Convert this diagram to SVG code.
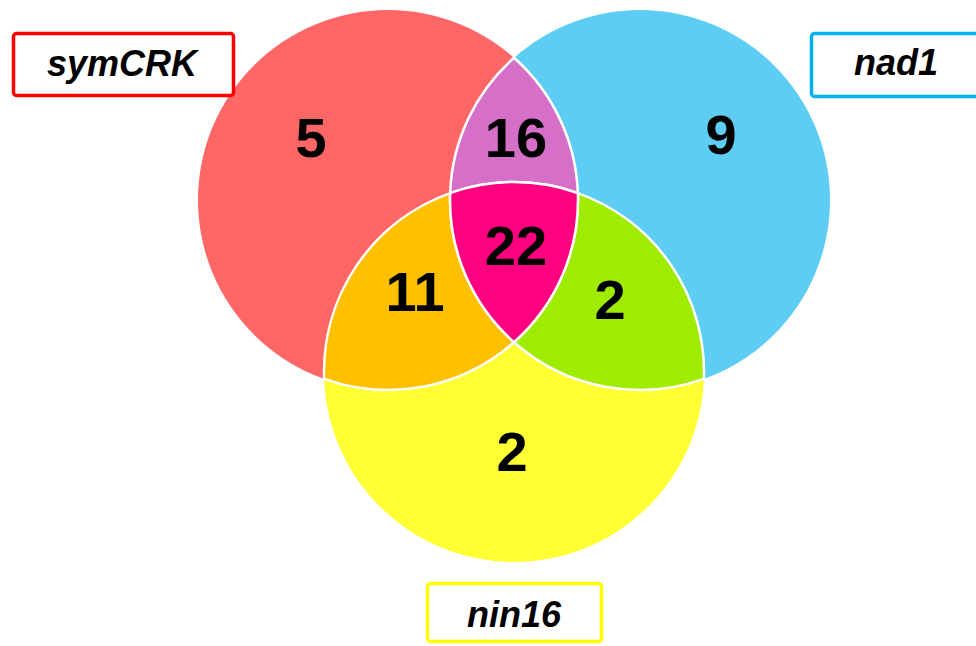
<svg xmlns="http://www.w3.org/2000/svg" width="976" height="646" viewBox="0 0 976 646">
  <style>
    .num { font-family: "Liberation Sans", Arial, sans-serif; font-weight: bold; font-size: 56px; fill: #000; text-anchor: middle; }
    .lbl { font-family: "Liberation Sans", Arial, sans-serif; font-weight: bold; font-style: italic; font-size: 36px; fill: #000; text-anchor: middle; }
    .box { fill: #fff; stroke-width: 3.5; }
    .part { stroke: #fff; stroke-width: 2.5; stroke-linejoin: round; }
  </style>
  <rect width="976" height="646" fill="#fff"/>

  <!-- the three sets -->
  <g id="set-symCRK"><circle cx="388" cy="200" r="190" fill="#FF6666"/></g>
  <g id="set-nad1"><circle cx="640" cy="200" r="190" fill="#5DCDF4"/></g>
  <g id="set-nin16"><circle cx="514" cy="372" r="190" fill="#FFFF33"/></g>

  <!-- overlaps -->
  <g id="overlap-symCRK-nad1">
    <path class="part" fill="#D56FC8" d="M514,57.8 A190,190 0 0,0 450.13,193.06 A190,190 0 0,1 577.87,193.06 A190,190 0 0,0 514,57.8 Z"/>
  </g>
  <g id="overlap-symCRK-nin16">
    <path class="part" fill="#FFC000" d="M324.13,378.94 A190,190 0 0,1 450.13,193.06 A190,190 0 0,0 514,342.2 A190,190 0 0,1 324.13,378.94 Z"/>
  </g>
  <g id="overlap-nad1-nin16">
    <path class="part" fill="#A0EC00" d="M703.87,378.94 A190,190 0 0,0 577.87,193.06 A190,190 0 0,1 514,342.2 A190,190 0 0,0 703.87,378.94 Z"/>
  </g>
  <g id="overlap-all">
    <path class="part" fill="#FF0080" d="M450.13,193.06 A190,190 0 0,1 577.87,193.06 A190,190 0 0,1 514,342.2 A190,190 0 0,1 450.13,193.06 Z"/>
  </g>

  <!-- counts -->
  <g id="counts">
    <text class="num" x="311" y="157">5</text>
    <text class="num" x="516" y="157">16</text>
    <text class="num" x="721" y="154">9</text>
    <text class="num" x="516" y="265">22</text>
    <text class="num" x="415" y="311">11</text>
    <text class="num" x="610" y="319">2</text>
    <text class="num" x="512" y="471">2</text>
  </g>

  <!-- set labels -->
  <g id="label-symCRK">
    <rect class="box" x="13.5" y="33.5" width="220" height="62" rx="3" stroke="#FF0000"/>
    <text class="lbl" x="122" y="76">symCRK</text>
  </g>
  <g id="label-nad1">
    <rect class="box" x="811.5" y="33.5" width="180" height="63" rx="3" stroke="#00B0F0"/>
    <text class="lbl" x="896" y="75">nad1</text>
  </g>
  <g id="label-nin16">
    <rect class="box" x="427.5" y="583.5" width="174" height="58" rx="3" stroke="#FFFF00"/>
    <text class="lbl" x="514" y="627">nin16</text>
  </g>
</svg>
